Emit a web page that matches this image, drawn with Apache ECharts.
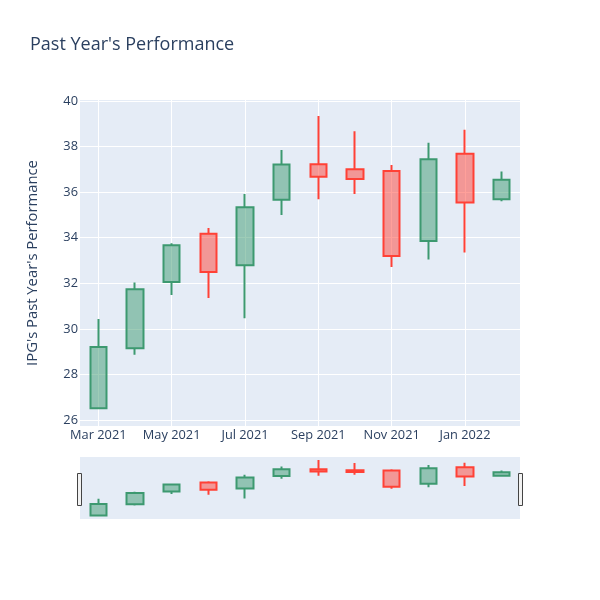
<!DOCTYPE html>
<html>
<head>
<meta charset="utf-8">
<script src="https://cdn.jsdelivr.net/npm/echarts@6/dist/echarts.min.js"></script>
<style>html,body{margin:0;padding:0;background:#fff}#c{width:600px;height:600px}</style>
</head>
<body>
<div id="c"></div>
<script>
var dates = ['2021-03-01','2021-04-01','2021-05-01','2021-06-01','2021-07-01','2021-08-01','2021-09-01','2021-10-01','2021-11-01','2021-12-01','2022-01-01','2022-02-01'];
var openVals  = [26.52, 29.15, 32.06, 34.17, 32.79, 35.66, 37.22, 37.00, 36.93, 33.85, 37.68, 35.69];
var closeVals = [29.20, 31.74, 33.67, 32.49, 35.34, 37.21, 36.67, 36.57, 33.20, 37.44, 35.54, 36.54];
var lowVals   = [26.48, 28.86, 31.49, 31.36, 30.47, 35.00, 35.69, 35.92, 32.71, 33.04, 33.35, 35.60];
var highVals  = [30.43, 32.03, 33.76, 34.42, 35.92, 37.85, 39.34, 38.67, 37.19, 38.17, 38.74, 36.90];
var yTicks = [26, 28, 30, 32, 34, 36, 38, 40];
var monthNames = ['Jan','Feb','Mar','Apr','May','Jun','Jul','Aug','Sep','Oct','Nov','Dec'];

var ohlc = dates.map(function (d, i) { return [openVals[i], closeVals[i], lowVals[i], highVals[i]]; });
var fontFam = '"Open Sans", sans-serif';
var txt = '#2a3f5f';
var itemStyle = {
  color: 'rgba(61,153,112,0.5)', color0: 'rgba(255,65,54,0.5)',
  borderColor: '#3D9970', borderColor0: '#FF4136', borderWidth: 2
};

var chart = echarts.init(document.getElementById('c'));
chart.setOption({
  animation: false,
  backgroundColor: '#fff',
  title: { text: "Past Year's Performance", left: 25, top: 31,
    textStyle: { fontFamily: fontFam, fontSize: 18, fontWeight: 'normal', color: txt } },
  grid: [
    { left: 80, right: 80, top: 100, height: 326, show: true, backgroundColor: '#e5ecf6', borderWidth: 0 },
    { left: 80, right: 80, top: 457, height: 62, show: true, backgroundColor: '#e5ecf6', borderWidth: 0 }
  ],
  xAxis: [
    { type: 'category', gridIndex: 0, data: dates, boundaryGap: true,
      axisLine: { show: false }, axisTick: { show: false },
      axisLabel: { interval: 1, margin: 3, color: txt, fontFamily: fontFam, fontSize: 12.8,
        formatter: function (v) { var p = v.split('-'); return monthNames[+p[1] - 1] + ' ' + p[0]; } },
      splitLine: { show: true, interval: 1, alignWithLabel: true, lineStyle: { color: '#fff', width: 1 } } },
    { type: 'category', gridIndex: 1, data: dates, boundaryGap: true,
      axisLine: { show: false }, axisTick: { show: false }, axisLabel: { show: false }, splitLine: { show: false } }
  ],
  yAxis: [
    { type: 'value', gridIndex: 0, min: 25.74, max: 40.04,
      name: "IPG's Past Year's Performance", nameLocation: 'middle', nameGap: 40,
      nameTextStyle: { color: txt, fontFamily: fontFam, fontSize: 14.8 },
      axisLine: { show: false },
      axisTick: { show: false, customValues: yTicks },
      axisLabel: { customValues: yTicks, margin: 2, color: txt, fontFamily: fontFam, fontSize: 12.8 },
      splitLine: { show: true, lineStyle: { color: '#fff', width: 1 } } },
    { type: 'value', gridIndex: 1, min: 25.74, max: 40.04,
      axisLine: { show: false }, axisTick: { show: false }, axisLabel: { show: false }, splitLine: { show: false } }
  ],
  series: [
    { type: 'candlestick', xAxisIndex: 0, yAxisIndex: 0, data: ohlc, barWidth: 17, itemStyle: itemStyle },
    { type: 'candlestick', xAxisIndex: 1, yAxisIndex: 1, data: ohlc, barWidth: 17, itemStyle: itemStyle, silent: true }
  ],
  graphic: [
    { type: 'rect', left: 77, top: 473, shape: { width: 4, height: 32 }, style: { fill: '#f2f2f2', stroke: '#444', lineWidth: 1 } },
    { type: 'rect', left: 518, top: 473, shape: { width: 4, height: 32 }, style: { fill: '#f2f2f2', stroke: '#444', lineWidth: 1 } }
  ]
});
</script>
</body>
</html>
